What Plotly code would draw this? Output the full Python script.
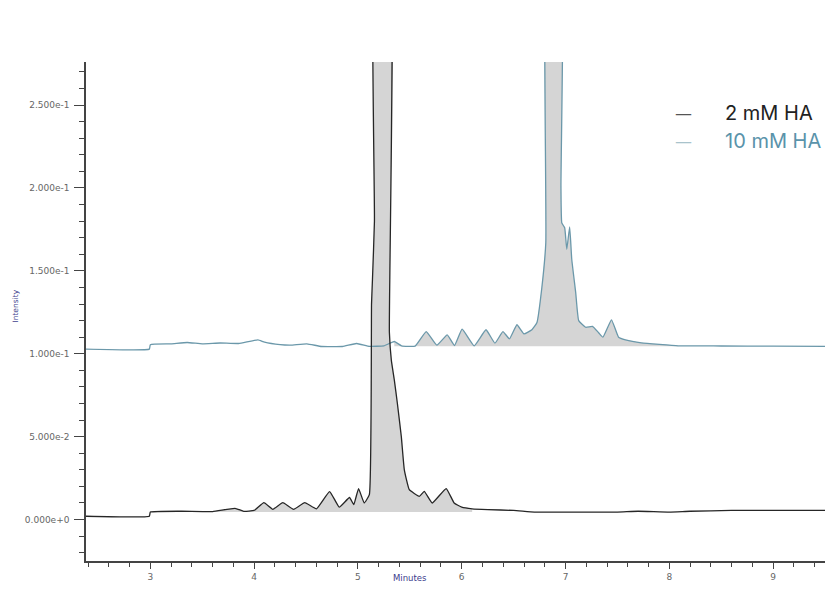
import plotly.graph_objects as go

# retention time (minutes) and intensity
t_2mm = [2.38, 2.99, 3.0, 3.3, 3.6, 3.816, 3.9, 4.0, 4.094, 4.18, 4.276, 4.38, 4.488,
         4.6, 4.727, 4.82, 4.919, 4.96, 5.006, 5.06, 5.11, 5.131, 5.140, 5.159, 5.169,
         5.30, 5.303, 5.322, 5.351, 5.380, 5.418, 5.447, 5.495, 5.591, 5.639, 5.716,
         5.850, 5.927, 6.0, 6.1, 6.25, 6.5, 6.7, 7.0, 7.5, 7.7, 8.0, 8.2, 8.6, 9.0, 9.5]
i_2mm = [0.002, 0.002, 0.0045, 0.005, 0.0048, 0.0068, 0.005, 0.0055, 0.0102, 0.0062,
         0.0102, 0.0062, 0.0102, 0.0065, 0.0169, 0.0075, 0.0133, 0.009, 0.0187, 0.010,
         0.015, 0.13, 0.145, 0.18, 0.40, 0.40, 0.113, 0.096, 0.084, 0.070, 0.050, 0.030,
         0.018, 0.014, 0.017, 0.010, 0.0187, 0.010, 0.0075, 0.0065, 0.006, 0.0055,
         0.0045, 0.0045, 0.0045, 0.005, 0.0045, 0.005, 0.0055, 0.0055, 0.0055]

t_10mm = [2.38, 2.99, 3.0, 3.2, 3.355, 3.5, 3.672, 3.85, 4.036, 4.1, 4.25, 4.35, 4.507,
          4.65, 4.85, 4.987, 5.111, 5.25, 5.351, 5.42, 5.55, 5.658, 5.76, 5.860, 5.93,
          6.004, 6.12, 6.234, 6.32, 6.397, 6.46, 6.532, 6.60, 6.676, 6.724, 6.772, 6.810,
          6.830, 6.950, 6.956, 6.964, 6.992, 7.012, 7.040, 7.060, 7.098, 7.127, 7.194,
          7.26, 7.319, 7.36, 7.443, 7.511, 7.578, 7.731, 8.086, 8.5, 9.0, 9.5]
i_10mm = [0.1028, 0.1028, 0.1055, 0.106, 0.1068, 0.106, 0.1065, 0.1062, 0.1084, 0.107,
          0.1055, 0.1052, 0.106, 0.1044, 0.1044, 0.1062, 0.1045, 0.1048, 0.1074, 0.1048,
          0.1046, 0.1134, 0.1052, 0.1114, 0.1050, 0.1149, 0.1048, 0.1145, 0.1064, 0.1134,
          0.1090, 0.1175, 0.112, 0.1145, 0.1187, 0.140, 0.167, 0.40, 0.40, 0.2006, 0.179,
          0.176, 0.163, 0.1765, 0.157, 0.137, 0.120, 0.116, 0.1165, 0.1127, 0.110, 0.1205,
          0.110, 0.1084, 0.1066, 0.1048, 0.1047, 0.1046, 0.1045]

# shaded integration windows and their baselines
fill_2mm = (3.0, 6.2, 0.0045)
fill_10mm = (5.3, 8.1, 0.1045)

y_ticks = [0, 0.05, 0.10, 0.15, 0.20, 0.25]
y_labels = ["0.000e+0", "5.000e-2", "1.000e-1", "1.500e-1", "2.000e-1", "2.500e-1"]
x_ticks = [3, 4, 5, 6, 7, 8, 9]
series_names = ["2 mM HA", "10 mM HA"]

BLACK = "#262626"
TEAL = "#6b98aa"
SHADE = "rgba(185,185,185,0.6)"
NAVY = "#3a3a8c"
SMOOTH = 0.35


def shaded(t, v, window):
    lo, hi, base = window
    xs = [x for x in t if lo <= x <= hi]
    ys = [y for x, y in zip(t, v) if lo <= x <= hi]
    px = [xs[0]] + xs + [xs[-1]]
    py = [base] + ys + [base]
    return go.Scatter(x=px, y=py, mode="lines", fill="toself", fillcolor=SHADE,
                      line=dict(width=0, shape="spline", smoothing=SMOOTH),
                      showlegend=False, hoverinfo="skip")


fig = go.Figure()
fig.add_trace(shaded(t_2mm, i_2mm, fill_2mm))
fig.add_trace(shaded(t_10mm, i_10mm, fill_10mm))
fig.add_trace(go.Scatter(x=t_10mm, y=i_10mm, mode="lines", name=series_names[1],
                         showlegend=False,
                         line=dict(color=TEAL, width=1.3, shape="spline", smoothing=SMOOTH)))
fig.add_trace(go.Scatter(x=t_2mm, y=i_2mm, mode="lines", name=series_names[0],
                         showlegend=False,
                         line=dict(color=BLACK, width=1.3, shape="spline", smoothing=SMOOTH)))

axis_font = dict(family="DejaVu Sans", size=9, color="#666")

# hand-made legend (dash + coloured label), placed in paper coords
legend_items = [(series_names[0], "#555", "#222", 0.898),
                (series_names[1], "#a9c3cc", "#5a93aa", 0.842)]
annots = []
for name, dash_col, txt_col, yy in legend_items:
    annots.append(dict(text="—", xref="paper", yref="paper", x=0.808, y=yy,
                       xanchor="center", yanchor="middle", showarrow=False,
                       font=dict(family="DejaVu Sans", size=17, color=dash_col)))
    annots.append(dict(text=name, xref="paper", yref="paper", x=0.862, y=yy,
                       xanchor="left", yanchor="middle", showarrow=False,
                       font=dict(family="Inter", size=20, color=txt_col)))

annots.append(dict(text="Minutes", xref="paper", yref="paper", x=(410 - 86) / 739,
                   y=-0.034, xanchor="center", yanchor="middle", showarrow=False,
                   font=dict(family="DejaVu Sans", size=8.5, color=NAVY)))
annots.append(dict(text="Intensity", xref="paper", yref="paper", x=-0.096, y=0.51,
                   xanchor="center", yanchor="middle", textangle=-90, showarrow=False,
                   font=dict(family="DejaVu Sans", size=7.5, color=NAVY)))

# page body adds an 8px offset, so margins are shifted to compensate
fig.update_layout(
    width=840, height=596,
    margin=dict(l=78, r=23, t=54, b=43),
    paper_bgcolor="white", plot_bgcolor="white",
    showlegend=False,
    xaxis=dict(range=[2.38, 9.5], showgrid=False, zeroline=False,
               showline=True, linecolor="#444", linewidth=1.5,
               tickvals=x_ticks, ticks="outside", ticklen=6, tickcolor="#444",
               tickfont=axis_font,
               minor=dict(dtick=0.2, tick0=0, ticks="outside", ticklen=4,
                          tickcolor="#444")),
    yaxis=dict(range=[-0.025, 0.276], showgrid=False, zeroline=False,
               showline=True, linecolor="#444", linewidth=1.5,
               tickvals=y_ticks, ticktext=y_labels, ticks="outside", ticklen=10,
               tickcolor="#444", tickfont=axis_font, ticklabelstandoff=3,
               minor=dict(dtick=0.01, tick0=0, ticks="outside", ticklen=5,
                          tickcolor="#444")),
    annotations=annots,
)

fig.write_html("out.html")
